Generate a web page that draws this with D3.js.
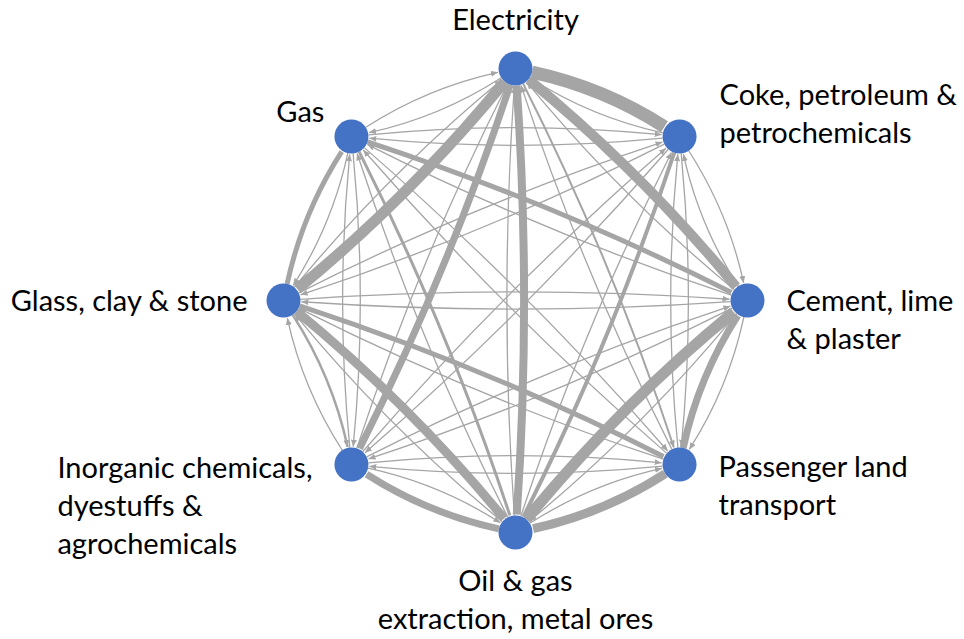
<!DOCTYPE html>
<html>
<head>
<meta charset="utf-8">
<script src="https://cdn.jsdelivr.net/npm/d3@7"></script>
<style>
  html, body { margin: 0; padding: 0; background: #ffffff; }
  svg { display: block; }
  text { font-family: "Lato", "Liberation Sans", sans-serif; font-size: 29px; fill: #000; }
</style>
</head>
<body>
<svg id="chart" width="964" height="639"></svg>
<script>
// ---------- DATA ----------
const sectors = [
  "Electricity",
  "Coke, petroleum & petrochemicals",
  "Cement, lime & plaster",
  "Passenger land transport",
  "Oil & gas extraction, metal ores",
  "Inorganic chemicals, dyestuffs & agrochemicals",
  "Glass, clay & stone",
  "Gas"
];
// label lines for each sector
const labelLines = [
  ["Electricity"],
  ["Coke, petroleum &", "petrochemicals"],
  ["Cement, lime", "& plaster"],
  ["Passenger land", "transport"],
  ["Oil & gas", "extraction, metal ores"],
  ["Inorganic chemicals,", "dyestuffs &", "agrochemicals"],
  ["Glass, clay & stone"],
  ["Gas"]
];
// directed link strengths (row = source, column = target), estimated
const linksFromElectricity = [0, 13, 10, 2, 8, 7, 11, 1.3];
const linksFromCoke        = [1.3, 0, 1.3, 1.3, 4, 1.3, 1.3, 1.3];
const linksFromCement      = [1.3, 1.3, 0, 1.3, 1.3, 1.3, 1.3, 1.3];
const linksFromPassenger   = [1.3, 1.3, 7, 0, 9, 1.3, 1.3, 1.3];
const linksFromOilGas      = [1.3, 1.3, 11, 1.3, 0, 7, 1.3, 1.3];
const linksFromInorganic   = [1.3, 1.3, 1.3, 1.3, 1.3, 0, 1.3, 1.3];
const linksFromGlass       = [1.3, 1.3, 1.3, 5, 9, 2.5, 0, 5];
const linksFromGas         = [1.3, 1.3, 5, 1.3, 3, 1.3, 1.3, 0];
const linkMatrix = [linksFromElectricity, linksFromCoke, linksFromCement, linksFromPassenger,
                    linksFromOilGas, linksFromInorganic, linksFromGlass, linksFromGas];

// ---------- LAYOUT ----------
const cx = 515.5, cy = 300.5, R = 232, nodeR = 17, bend = 8;
const angle = d3.scaleLinear().domain([0, sectors.length]).range([-Math.PI / 2, 1.5 * Math.PI]);
const widthScale = d3.scaleLinear().domain([0, 13]).range([0, 13]);
const nodes = sectors.map((name, i) => ({
  name, i,
  x: cx + R * Math.cos(angle(i)),
  y: cy + R * Math.sin(angle(i))
}));
// label placement: [anchor, dx, dy of first baseline]
const labelPlace = [
  ["middle", 0, -39],
  ["start", 40, -31],
  ["start", 39, 10],
  ["start", 39, 12],
  ["middle", 0, 58],
  ["start", -294, 13],
  ["end", -36, 10],
  ["end", -27, -14]
];
const lineH = 38;

const links = [];
linkMatrix.forEach((row, s) => row.forEach((w, t) => {
  if (s !== t && w > 0) links.push({ s, t, w });
}));
links.sort((a, b) => a.w - b.w);

const svg = d3.select("#chart");
const gray = "#a5a5a5";

svg.append("defs").append("marker")
  .attr("id", "arrow")
  .attr("viewBox", "0 -3 7 6")
  .attr("refX", 7).attr("refY", 0)
  .attr("markerWidth", 7).attr("markerHeight", 6)
  .attr("markerUnits", "userSpaceOnUse")
  .attr("orient", "auto")
  .append("path").attr("d", "M0,-3L7,0L0,3Z").attr("fill", gray);

function linkPath(d) {
  const a = nodes[d.s], b = nodes[d.t];
  const dx = b.x - a.x, dy = b.y - a.y, L = Math.hypot(dx, dy);
  const nx = dy / L, ny = -dx / L;
  const c = { x: (a.x + b.x) / 2 + nx * 2 * bend, y: (a.y + b.y) / 2 + ny * 2 * bend };
  const ua = Math.hypot(c.x - a.x, c.y - a.y), ub = Math.hypot(c.x - b.x, c.y - b.y);
  const p0 = { x: a.x + (c.x - a.x) / ua * nodeR, y: a.y + (c.y - a.y) / ua * nodeR };
  const p1 = { x: b.x + (c.x - b.x) / ub * (nodeR + 1), y: b.y + (c.y - b.y) / ub * (nodeR + 1) };
  const p = d3.path();
  p.moveTo(p0.x, p0.y);
  p.quadraticCurveTo(c.x, c.y, p1.x, p1.y);
  return p.toString();
}

svg.append("g").selectAll("path").data(links).join("path")
  .attr("d", linkPath)
  .attr("fill", "none")
  .attr("stroke", gray)
  .attr("stroke-width", d => widthScale(d.w))
  .attr("marker-end", d => d.w < 3 ? "url(#arrow)" : null);

svg.append("g").selectAll("circle").data(nodes).join("circle")
  .attr("cx", d => d.x).attr("cy", d => d.y).attr("r", nodeR)
  .attr("fill", "#4472c4");

const lbl = svg.append("g").selectAll("text").data(nodes).join("text")
  .attr("text-anchor", d => labelPlace[d.i][0])
  .attr("x", d => d.x + labelPlace[d.i][1])
  .attr("y", d => d.y + labelPlace[d.i][2]);
lbl.selectAll("tspan").data(d => labelLines[d.i].map((l, k) => ({ l, k, d }))).join("tspan")
  .attr("x", o => o.d.x + labelPlace[o.d.i][1])
  .attr("dy", o => o.k === 0 ? 0 : lineH)
  .text(o => o.l);
</script>
</body>
</html>
